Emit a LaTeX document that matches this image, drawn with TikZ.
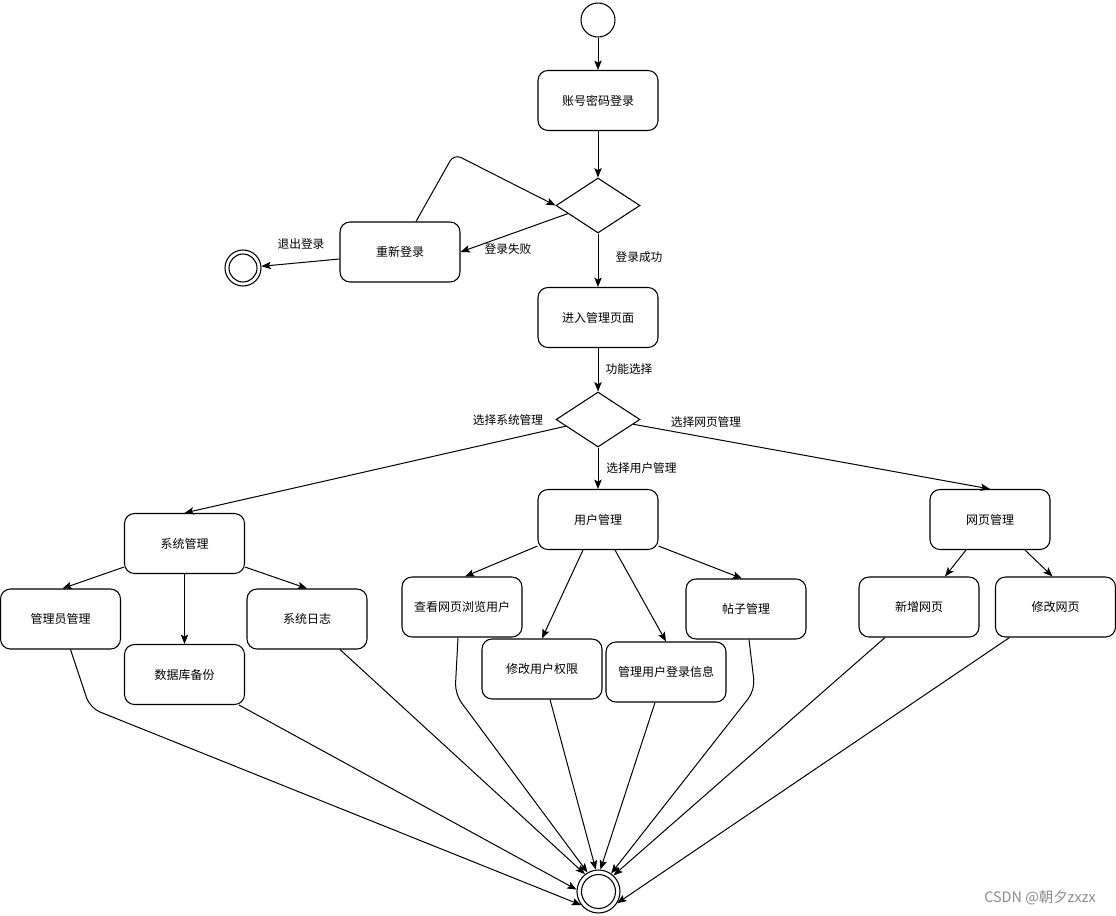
\documentclass[tikz,border=0pt]{standalone}
\usepackage{fontspec}
\newfontfamily\cjk{Noto Sans CJK SC}
\usetikzlibrary{shapes.geometric,arrows.meta,calc}
\begin{document}
\begin{tikzpicture}[x=0.75pt,y=-0.75pt,
  box/.style={draw, line width=0.8pt, rounded corners=7.5pt, minimum width=90pt, minimum height=45pt, inner sep=0pt, font=\cjk\fontsize{9}{10}\selectfont},
  dec/.style={draw, line width=0.8pt, diamond, minimum width=63pt, minimum height=41.25pt, inner sep=0pt},
  init/.style={draw, circle, line width=0.8pt, inner sep=0pt},
  lab/.style={font=\cjk\fontsize{8.8}{10}\selectfont, inner sep=0pt},
  arr/.style={line width=0.75pt, -{Stealth[length=7pt,width=5.5pt,inset=1.5pt]}},
  ]
\fill[white] (0,0) rectangle (1116,916);
\useasboundingbox (0,0) rectangle (1116,916);

% nodes
\node[init, minimum size=25.5pt] (start) at (598,20) {};
\node[box] (login) at (598,100.5) {账号密码登录};
\node[dec] (d1) at (598,205.5) {};
\node[box] (relog) at (400,252) {重新登录};
\node[init, minimum size=27pt] (f1) at (243,268) {};
\draw[line width=0.8pt] (f1.center) circle[radius=10.5pt];
\node[box] (mgr) at (598,317.5) {进入管理页面};
\node[dec] (d2) at (598,419.5) {};
\node[box] (um) at (598,519.5) {用户管理};
\node[box] (sys) at (184.5,543.5) {系统管理};
\node[box] (web) at (990,519.5) {网页管理};
\node[box] (m1) at (60.5,619) {管理员管理};
\node[box] (db) at (184.5,674.5) {数据库备份};
\node[box] (log) at (307,619) {系统日志};
\node[box] (v1) at (462,607) {查看网页浏览用户};
\node[box] (perm) at (542,669) {修改用户权限};
\node[box] (info) at (666,672) {管理用户登录信息};
\node[box] (post) at (746,609) {帖子管理};
\node[box] (newp) at (919,607) {新增网页};
\node[box] (modp) at (1055.5,607) {修改网页};
\node[init, minimum size=32.25pt] (f2) at (598.5,891.5) {};
\draw[line width=0.8pt] (f2.center) circle[radius=12.75pt];

% labels
\node[lab] (l1) at (301,244) {退出登录};
\node[lab] (l2) at (508,249) {登录失败};
\node[lab] (l3) at (639,257) {登录成功};
\node[lab] (l4) at (629,369) {功能选择};
\node[lab] (l5) at (508,420) {选择系统管理};
\node[lab] (l6) at (706,422) {选择网页管理};
\node[lab] (l7) at (641.5,468) {选择用户管理};
\node[font=\cjk\fontsize{10.8}{12}\selectfont, text=black!45, inner sep=0pt] (wm) at (1040,898) {CSDN @朝夕zxzx};

% waypoints
\coordinate (c1) at (454,154);
\coordinate (k1) at (90,708);
\coordinate (k2) at (455,694);
\coordinate (k3) at (755,690);

% connectors
\draw[arr] (start) -- (login);
\draw[arr] (login) -- (d1);
\draw[arr] ($(d1.west)!0.29!(d1.south)$) -- (relog.east);
\draw[arr, rounded corners=6pt] ($(relog.north)+(16,0)$) -- (c1) -- (d1.west);
\draw[arr] ($(relog.west)+(0,7)$) -- (f1);
\draw[arr] (d1) -- (mgr);
\draw[arr] (mgr) -- (d2);
\draw[arr] ($(d2.west)!0.24!(d2.south)$) -- (sys.north);
\draw[arr] (d2) -- (um);
\draw[arr] ($(d2.east)!0.17!(d2.south)$) -- (web.north);

\draw[arr] ($(sys.south west)+(0,-7)$) -- ($(m1.north)+(2,0)$);
\draw[arr] (sys) -- (db);
\draw[arr] ($(sys.south east)+(0,-7)$) -- (log.north);

\draw[arr] ($(um.south west)+(0,-4)$) -- ($(v1.north)+(3,0)$);
\draw[arr] ($(um.south)+(-15,0)$) -- (perm.north);
\draw[arr] ($(um.south)+(17,0)$) -- (info.north);
\draw[arr] ($(um.south east)+(0,-4)$) -- ($(post.north)+(-4,0)$);

\draw[arr] ($(web.south)+(-24,0)$) -- ($(newp.north)+(26,0)$);
\draw[arr] ($(web.south)+(35,0)$) -- ($(modp.north)+(-3,0)$);

\draw[arr, rounded corners=8pt] ($(m1.south)+(10,0)$) -- (k1) -- (f2.-142);
\draw[arr] ($(db.south east)+(-6,0)$) -- (f2.175);
\draw[arr] ($(log.south)+(33,0)$) -- (f2.128);
\draw[arr, rounded corners=8pt] ($(v1.south)+(-4,0)$) -- (k2) -- (f2.120);
\draw[arr] ($(perm.south)+(8,0)$) -- (f2.97);
\draw[arr] ($(info.south)+(-11,0)$) -- (f2.85);
\draw[arr, rounded corners=8pt] ($(post.south)+(3,0)$) -- (k3) -- (f2.55);
\draw[arr] ($(newp.south)+(-34,0)$) -- (f2.47);
\draw[arr] ($(modp.south)+(-46,0)$) -- (f2.-32);
\end{tikzpicture}
\end{document}
